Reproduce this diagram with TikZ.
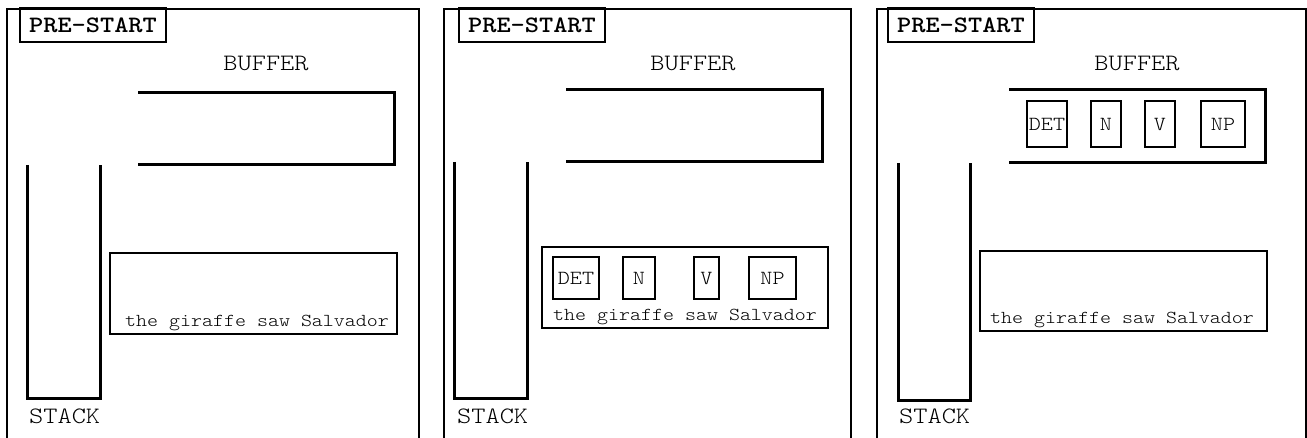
\documentclass[tikz,border=0pt]{standalone}
\usepackage{fontspec}
\setmonofont[FakeStretch=1.15]{Latin Modern Mono Light}
\begin{document}
\begin{tikzpicture}[x=1pt,y=-1pt,
  frame/.style={line width=2pt},
  heavy/.style={line width=3pt},
  prestart/.style={draw, line width=2pt, inner sep=0pt, minimum width=146pt, minimum height=34pt,
    font=\ttfamily\bfseries\fontsize{23.5}{26}\selectfont},
  biglabel/.style={inner sep=0pt, font=\ttfamily\fontsize{23.5}{26}\selectfont},
  words/.style={inner sep=0pt, font=\ttfamily\fontsize{18.2}{20}\selectfont},
  sentbox/.style={draw, line width=2pt, inner sep=0pt},
  tag/.style={draw, line width=2pt, inner sep=0pt, font=\ttfamily\fontsize{20}{22}\selectfont}
]
\useasboundingbox (0,0) rectangle (1307,438);

% ---------------- Panel 1 ----------------
\draw[frame] (7,438) -- (7,9) -- (419,9) -- (419,438);
\node[prestart] (ps1) at (93,25) {PRE-START};
\node[biglabel, anchor=base] (bl1) at (266,71) {BUFFER};
\draw[heavy] (138,93) -- (394,93) -- (394,165) -- (138,165);
\draw[heavy] (27,165) -- (27,398) -- (100,398) -- (100,165);
\node[biglabel, anchor=base west] (sl1) at (29,423) {STACK};
\node[sentbox, minimum width=287pt, minimum height=81pt] (sb1) at (253.5,293.5) {};
\node[words, anchor=base west] (w1) at (125,327) {the giraffe saw Salvador};

% ---------------- Panel 2 ----------------
\draw[frame] (444,438) -- (444,9) -- (851,9) -- (851,438);
\node[prestart] (ps2) at (532,25) {PRE-START};
\node[biglabel, anchor=base] (bl2) at (693,71) {BUFFER};
\draw[heavy] (566,90) -- (822,90) -- (822,162) -- (566,162);
\draw[heavy] (454,162) -- (454,398) -- (527,398) -- (527,162);
\node[biglabel, anchor=base west] (sl2) at (457,423) {STACK};
\node[sentbox, minimum width=286pt, minimum height=81pt] (sb2) at (685,287.5) {};
\node[words, anchor=base west] (w2) at (553,321) {the giraffe saw Salvador};
\node[tag, minimum width=46pt, minimum height=42pt] (t2a) at (576,278) {DET};
\node[tag, minimum width=32pt, minimum height=42pt] (t2b) at (639,278) {N};
\node[tag, minimum width=25pt, minimum height=42pt] (t2c) at (706.5,278) {V};
\node[tag, minimum width=47pt, minimum height=42pt] (t2d) at (772.5,278) {NP};

% ---------------- Panel 3 ----------------
\draw[frame] (877,438) -- (877,9) -- (1306,9) -- (1306,438);
\node[prestart] (ps3) at (961,25) {PRE-START};
\node[biglabel, anchor=base] (bl3) at (1137,71) {BUFFER};
\draw[heavy] (1009,90) -- (1265,90) -- (1265,163) -- (1009,163);
\node[tag, minimum width=40pt, minimum height=46pt] (t3a) at (1047,124) {DET};
\node[tag, minimum width=30pt, minimum height=46pt] (t3b) at (1106,124) {N};
\node[tag, minimum width=30pt, minimum height=46pt] (t3c) at (1160,124) {V};
\node[tag, minimum width=44pt, minimum height=46pt] (t3d) at (1223,124) {NP};
\draw[heavy] (898,163) -- (898,400) -- (970,400) -- (970,163);
\node[biglabel, anchor=base west] (sl3) at (899,423) {STACK};
\node[sentbox, minimum width=287pt, minimum height=80pt] (sb3) at (1123.5,291) {};
\node[words, anchor=base west] (w3) at (990,324) {the giraffe saw Salvador};
\end{tikzpicture}
\end{document}
